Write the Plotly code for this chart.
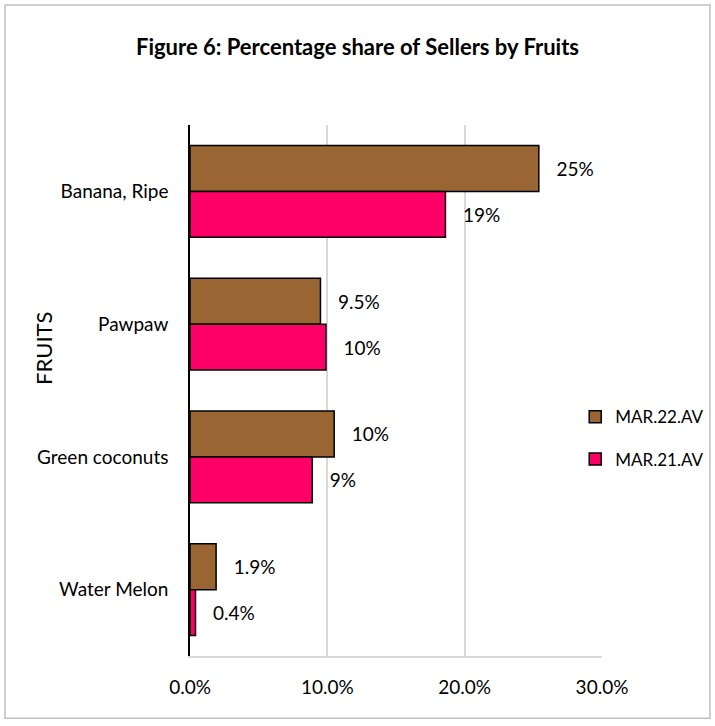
import plotly.graph_objects as go

categories = ["Banana, Ripe", "Pawpaw", "Green coconuts", "Water Melon"]
mar22 = [0.254, 0.095, 0.105, 0.019]
mar21 = [0.186, 0.099, 0.089, 0.004]
mar22_labels = ["25%", "9.5%", "10%", "1.9%"]
mar21_labels = ["19%", "10%", "9%", "0.4%"]
x_ticks = [0, 0.1, 0.2, 0.3]
x_tick_labels = ["0.0%", "10.0%", "20.0%", "30.0%"]

FONT = "Lato, Open Sans, sans-serif"

fig = go.Figure()
fig.add_trace(go.Bar(
    y=categories, x=mar22, orientation="h", name="MAR.22.AV", legendgroup="a",
    marker=dict(color="#996633", line=dict(color="black", width=1.5)),
    text=["   " + t for t in mar22_labels], textposition="outside",
    textfont=dict(size=19, color="black", family=FONT), cliponaxis=False,
))
fig.add_trace(go.Bar(
    y=categories, x=mar21, orientation="h", name="MAR.21.AV", legendgroup="b",
    marker=dict(color="#FF0066", line=dict(color="black", width=1.5)),
    text=["   " + t for t in mar21_labels], textposition="outside",
    textfont=dict(size=19, color="black", family=FONT), cliponaxis=False,
))

fig.update_layout(
    width=715, height=726,
    paper_bgcolor="white", plot_bgcolor="white",
    margin=dict(l=190, r=113, t=125, b=70, autoexpand=False),
    barmode="group", bargap=0.31, bargroupgap=0,
    font=dict(family=FONT, size=19, color="black"),
    title=dict(text="<b>Figure 6: Percentage share of Sellers by Fruits</b>",
               x=0.5, xanchor="center", y=0.935, yanchor="middle",
               font=dict(size=22, family=FONT, color="black")),
    legend=dict(x=0.935, y=0.41, xanchor="left", yanchor="middle",
                font=dict(size=17, family=FONT), traceorder="grouped",
                tracegroupgap=17, itemwidth=30, bgcolor="rgba(0,0,0,0)"),
    showlegend=True,
)
fig.update_xaxes(range=[0, 0.3], tickvals=x_ticks, ticktext=x_tick_labels,
                 showgrid=True, gridcolor="#d9d9d9", gridwidth=1.5,
                 showline=True, linecolor="#d9d9d9", linewidth=1.5,
                 zeroline=False, ticks="", ticklabelstandoff=13,
                 tickfont=dict(size=19))
fig.update_yaxes(autorange="reversed", showline=True, linecolor="black",
                 linewidth=1.5, ticks="", ticklabelstandoff=16,
                 showgrid=False, tickfont=dict(size=19))

fig.add_annotation(text="FRUITS", xref="paper", yref="paper",
                   x=-0.357, y=0.58, textangle=-90, showarrow=False,
                   xanchor="center", yanchor="middle",
                   font=dict(size=22, family=FONT, color="black"))

# outer chart border
fig.add_shape(type="rect", xref="paper", yref="paper",
              x0=-0.449, x1=1.262, y0=-0.117, y1=1.226,
              line=dict(color="#bfbfbf", width=1.5), fillcolor="rgba(0,0,0,0)",
              layer="below")

fig.write_html("out.html", config={"displayModeBar": False},
               post_script="document.body.style.margin='0';")
